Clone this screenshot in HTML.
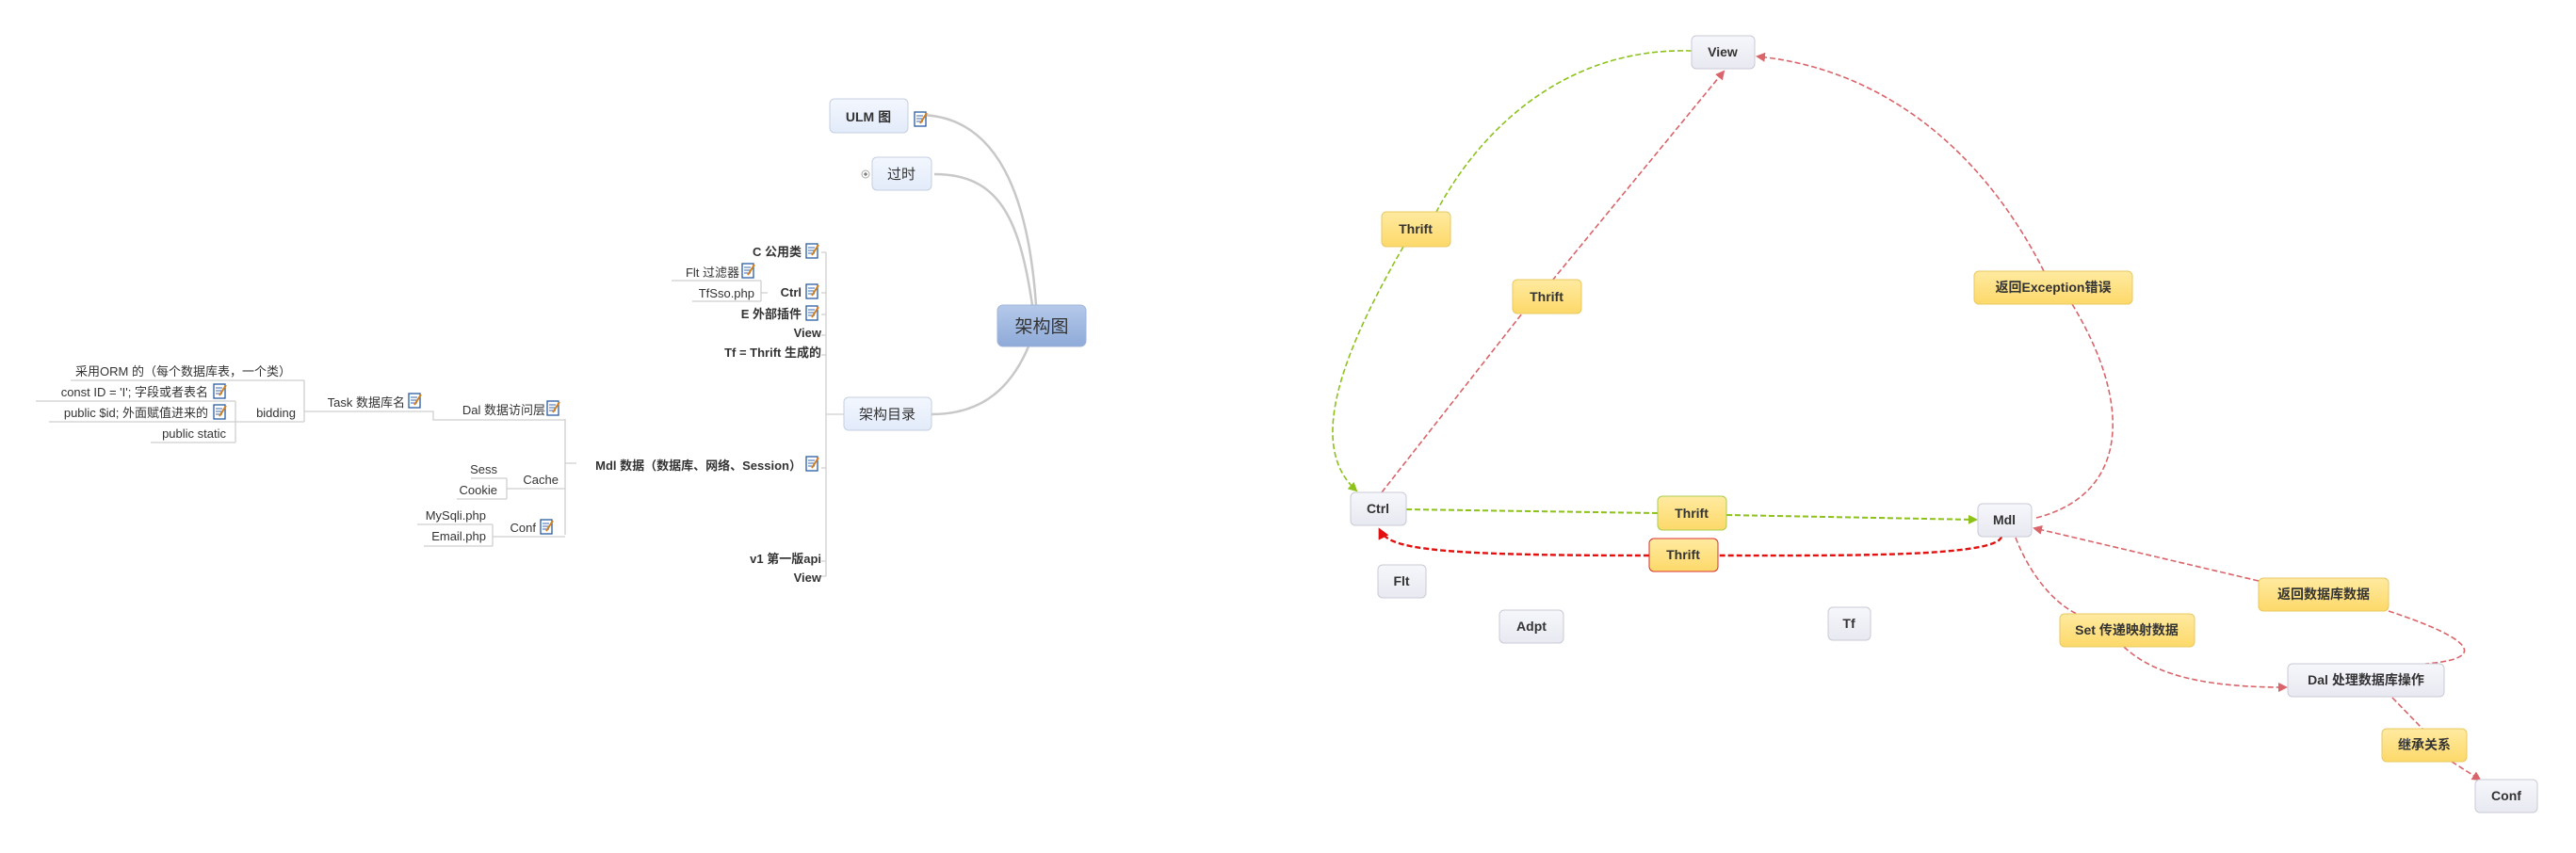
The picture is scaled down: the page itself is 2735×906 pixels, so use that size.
<!DOCTYPE html>
<html><head><meta charset="utf-8"><style>
html,body{margin:0;padding:0;background:#fff;}
svg text{font-family:"Liberation Sans","Noto Sans CJK SC",sans-serif;fill:#333;}
</style></head><body>
<svg width="2735" height="901" viewBox="0 0 2735 901" xmlns="http://www.w3.org/2000/svg">
<defs>
<linearGradient id="gb" x1="0" y1="0" x2="0" y2="1"><stop offset="0" stop-color="#f6f7fb"/><stop offset="1" stop-color="#e8e9f1"/></linearGradient>
<linearGradient id="gy" x1="0" y1="0" x2="0" y2="1"><stop offset="0" stop-color="#ffeaa0"/><stop offset="1" stop-color="#fdd96a"/></linearGradient>
<linearGradient id="gl" x1="0" y1="0" x2="0" y2="1"><stop offset="0" stop-color="#f3f7fe"/><stop offset="1" stop-color="#e2ebfa"/></linearGradient>
<linearGradient id="gc" x1="0" y1="0" x2="0" y2="1"><stop offset="0" stop-color="#b5c9ea"/><stop offset="1" stop-color="#8eaad8"/></linearGradient>
<marker id="ag" markerWidth="10" markerHeight="10" refX="8" refY="5" orient="auto" markerUnits="userSpaceOnUse"><path d="M0,0 L10,5 L0,10z" fill="#8cc21a"/></marker>
<marker id="ar" markerWidth="10" markerHeight="10" refX="8" refY="5" orient="auto" markerUnits="userSpaceOnUse"><path d="M0,0 L10,5 L0,10z" fill="#d9646a"/></marker>
<marker id="arr" markerWidth="12" markerHeight="12" refX="9" refY="6" orient="auto" markerUnits="userSpaceOnUse"><path d="M0,0 L12,6 L0,12z" fill="#e31010"/></marker>
<g id="ic"><rect x="0" y="0" width="12" height="15" fill="#fff" stroke="#2a5aa0" stroke-width="1.3"/><path d="M2,4h7M2,7h7M2,10h7" stroke="#3a6ab0" stroke-width="1"/><path d="M6,12 L13,1" stroke="#d08020" stroke-width="2"/></g>
</defs>

<!-- Left mind map connectors -->
<g fill="none" stroke="#c8c8c8" stroke-width="2.5">
<path d="M1100,324 C1092,210 1060,122 975,122"/>
<path d="M1096,324 C1082,230 1060,185 992,185"/>
<path d="M1092,368 C1070,420 1035,440 989,440"/>
</g>
<g fill="none" stroke="#cfcfcf" stroke-width="1.3">
<path d="M877,268 V612"/>
<path d="M872,268H877M872,311H877M872,334H877M872,356H877M872,377H877M872,497H877M872,596H877M872,612H877M877,440H896"/>
<path d="M713,298H808M735,320H808M808,298V320M808,311H815"/>
<path d="M600,445V568M600,492H612"/>
<path d="M323,437H460V446H600"/>
<path d="M75,404H323M323,404V448M250,448H323"/>
<path d="M38,426H250M52,448H250M160,470H250M250,426V470"/>
<path d="M538,519H600M500,508H538M485,530H538M538,508V530"/>
<path d="M523,570H600M443,557H523M450,580H523M523,557V580"/>
</g>
<circle cx="919" cy="185" r="4" fill="#fff" stroke="#aaa"/><path d="M917,185h4M919,183v4" stroke="#555"/>

<!-- Left boxes -->
<rect x="881" y="105" width="83" height="36" rx="5" fill="url(#gl)" stroke="#c5cfe0"/>
<text x="922" y="129" font-size="14" font-weight="bold" text-anchor="middle">ULM 图</text>
<use href="#ic" x="971" y="119"/>
<rect x="926" y="167" width="63" height="35" rx="5" fill="url(#gl)" stroke="#c5cfe0"/>
<text x="957" y="190" font-size="15" text-anchor="middle">过时</text>
<rect x="1059" y="324" width="94" height="44" rx="6" fill="url(#gc)" stroke="#a0b4d8"/>
<text x="1106" y="353" font-size="19" text-anchor="middle">架构图</text>
<rect x="896" y="422" width="93" height="35" rx="5" fill="url(#gl)" stroke="#c5cfe0"/>
<text x="942" y="445" font-size="15" text-anchor="middle">架构目录</text>

<!-- Left texts -->
<g font-size="13">
<text x="851" y="272" text-anchor="end" font-weight="bold">C 公用类</text><use href="#ic" x="856" y="259"/>
<text x="851" y="315" text-anchor="end" font-weight="bold">Ctrl</text><use href="#ic" x="856" y="302"/>
<text x="851" y="338" text-anchor="end" font-weight="bold">E 外部插件</text><use href="#ic" x="856" y="325"/>
<text x="872" y="358" text-anchor="end" font-weight="bold">View</text>
<text x="872" y="379" text-anchor="end" font-weight="bold">Tf = Thrift 生成的</text>
<text x="851" y="499" text-anchor="end" font-weight="bold">Mdl 数据（数据库、网络、Session）</text><use href="#ic" x="856" y="485"/>
<text x="872" y="598" text-anchor="end" font-weight="bold">v1 第一版api</text>
<text x="872" y="618" text-anchor="end" font-weight="bold">View</text>
<text x="785" y="294" text-anchor="end">Flt 过滤器</text><use href="#ic" x="788" y="280"/>
<text x="801" y="316" text-anchor="end">TfSso.php</text>
<text x="579" y="440" text-anchor="end">Dal 数据访问层</text><use href="#ic" x="581" y="426"/>
<text x="430" y="432" text-anchor="end">Task 数据库名</text><use href="#ic" x="434" y="418"/>
<text x="314" y="443" text-anchor="end">bidding</text>
<text x="309" y="399" text-anchor="end">采用ORM 的（每个数据库表，一个类）</text>
<text x="221" y="421" text-anchor="end">const ID = 'I'; 字段或者表名</text><use href="#ic" x="227" y="408"/>
<text x="221" y="443" text-anchor="end">public $id; 外面赋值进来的</text><use href="#ic" x="227" y="430"/>
<text x="240" y="465" text-anchor="end">public static</text>
<text x="593" y="514" text-anchor="end">Cache</text>
<text x="528" y="503" text-anchor="end">Sess</text>
<text x="528" y="525" text-anchor="end">Cookie</text>
<text x="569" y="565" text-anchor="end">Conf</text><use href="#ic" x="574" y="552"/>
<text x="516" y="552" text-anchor="end">MySqli.php</text>
<text x="516" y="574" text-anchor="end">Email.php</text>
</g>

<!-- Right diagram connectors -->
<g fill="none" stroke-width="1.6" stroke-dasharray="6,3">
<path d="M1796,54 C1660,50 1570,140 1525,225" stroke="#8cc21a"/>
<path d="M1490,262 C1410,400 1395,480 1440,521" stroke="#8cc21a" marker-end="url(#ag)"/>
<path d="M1467,523 L1616,333" stroke="#d9646a"/>
<path d="M1648,298 L1830,76" stroke="#d9646a" marker-end="url(#ar)"/>
<path d="M2162,550 C2260,525 2265,430 2200,323" stroke="#d9646a"/>
<path d="M2170,288 C2100,150 1990,72 1866,60" stroke="#d9646a" marker-end="url(#ar)"/>
<path d="M1493,541 L1760,545" stroke="#8cc21a" stroke-width="2"/>
<path d="M1833,547 L2098,552" stroke="#8cc21a" stroke-width="2" marker-end="url(#ag)"/>
<path d="M2125,570 C2120,592 1950,590 1824,590" stroke="#e31010" stroke-width="2.4"/>
<path d="M1751,590 C1520,590 1475,583 1465,563" stroke="#e31010" stroke-width="2.4" marker-end="url(#arr)"/>
<path d="M2398,617 L2160,561" stroke="#d9646a" marker-end="url(#ar)"/>
<path d="M2536,649 C2630,680 2640,700 2575,705" stroke="#d9646a"/>
<path d="M2140,571 C2155,610 2180,640 2205,652" stroke="#d9646a"/>
<path d="M2255,687 C2290,720 2350,730 2427,730" stroke="#d9646a" marker-end="url(#ar)"/>
<path d="M2540,741 L2572,774" stroke="#d9646a"/>
<path d="M2603,809 L2633,828" stroke="#d9646a" marker-end="url(#ar)"/>
</g>

<!-- Right nodes -->
<g font-size="14" font-weight="bold" text-anchor="middle">
<rect x="1796" y="38" width="67" height="35" rx="5" fill="url(#gb)" stroke="#c9cad6"/><text x="1829" y="60">View</text>
<rect x="1434" y="523" width="59" height="35" rx="5" fill="url(#gb)" stroke="#c9cad6"/><text x="1463" y="545">Ctrl</text>
<rect x="2100" y="535" width="57" height="35" rx="5" fill="url(#gb)" stroke="#c9cad6"/><text x="2128" y="557">Mdl</text>
<rect x="1463" y="600" width="51" height="35" rx="5" fill="url(#gb)" stroke="#c9cad6"/><text x="1488" y="622">Flt</text>
<rect x="1592" y="648" width="68" height="35" rx="5" fill="url(#gb)" stroke="#c9cad6"/><text x="1626" y="670">Adpt</text>
<rect x="1941" y="645" width="45" height="35" rx="5" fill="url(#gb)" stroke="#c9cad6"/><text x="1963" y="667">Tf</text>
<rect x="2429" y="705" width="166" height="35" rx="5" fill="url(#gb)" stroke="#c9cad6"/><text x="2512" y="727">Dal 处理数据库操作</text>
<rect x="2628" y="828" width="66" height="35" rx="5" fill="url(#gb)" stroke="#c9cad6"/><text x="2661" y="850">Conf</text>

<rect x="1467" y="225" width="73" height="37" rx="5" fill="url(#gy)" stroke="#e8c860"/><text x="1503" y="248">Thrift</text>
<rect x="1606" y="297" width="73" height="36" rx="5" fill="url(#gy)" stroke="#e8c860"/><text x="1642" y="320">Thrift</text>
<rect x="2096" y="288" width="168" height="35" rx="5" fill="url(#gy)" stroke="#e8c860"/><text x="2180" y="310">返回Exception错误</text>
<rect x="1760" y="527" width="73" height="36" rx="5" fill="url(#gy)" stroke="#a8cc50"/><text x="1796" y="550">Thrift</text>
<rect x="1751" y="572" width="73" height="35" rx="5" fill="url(#gy)" stroke="#d83030"/><text x="1787" y="594">Thrift</text>
<rect x="2398" y="614" width="138" height="35" rx="5" fill="url(#gy)" stroke="#e8c860"/><text x="2467" y="636">返回数据库数据</text>
<rect x="2187" y="652" width="143" height="35" rx="5" fill="url(#gy)" stroke="#e8c860"/><text x="2258" y="674">Set 传递映射数据</text>
<rect x="2529" y="774" width="90" height="35" rx="5" fill="url(#gy)" stroke="#e8c860"/><text x="2574" y="796">继承关系</text>
</g>
</svg>
</body></html>
